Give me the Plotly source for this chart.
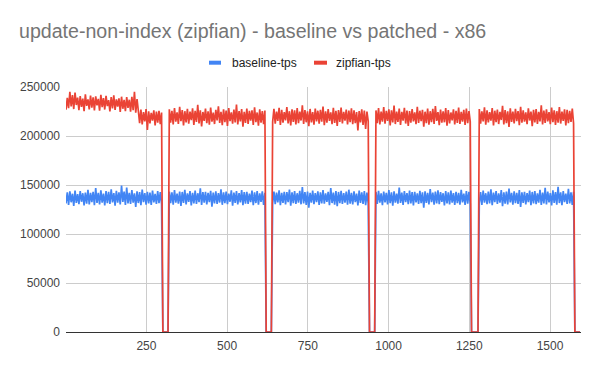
import plotly.graph_objects as go

# ---------------- data (sampled every 4 runs) ----------------
sample_start = 1
sample_step = 4

red_run1 = [226800, 238900, 228400, 245200, 230100, 241700, 227500, 244300, 231600, 239200,
            226300, 240800, 229700, 238100, 225400, 242600, 230800, 237400, 227100, 241300,
            228900, 239500, 226200, 240400, 231300, 237800, 225800, 242100, 229400, 238700,
            227000, 240900, 230500, 236600, 225100, 239800, 228200, 241500, 226700, 237300,
            229900, 238400, 224600, 240100, 227800, 236900, 225300, 239600, 228600, 237000,
            224900, 239900, 226400, 245000, 223800, 237600,
            225800, 213200, 226900, 211700, 224300, 214900, 227400, 206200, 225100, 212800,
            223700, 215600, 226200, 210900, 224800, 213700, 225600, 212100, 223900]
red_run2 = [227300, 213500, 225800, 211900, 228600, 214700, 224100, 212300, 229800, 215200,
            226400, 210800, 225300, 213900, 227700, 212600, 224900, 216100, 228200, 211400,
            225600, 214300, 231700, 212900, 226100, 209800, 224500, 215400, 227900, 213100,
            225200, 211600, 228900, 214600, 223800, 212200, 226700, 215900, 230400, 213400,
            224700, 211100, 227100, 214100, 225900, 210300, 228400, 215100, 224200, 212700,
            226900, 213800, 232100, 211800, 225400, 214800, 227500, 209600, 224600, 213300,
            228100, 212400, 225700, 215700, 226300, 211300, 229300, 214200, 224000, 210600,
            227200, 213600, 225500, 212000, 226000]
red_run3 = [214400, 227800, 212500, 225000, 215300, 228800, 211200, 226600, 213700, 224400,
            216000, 229600, 212800, 225300, 210700, 227300, 214500, 226100, 211900, 228500,
            213200, 224800, 215800, 231200, 212300, 226400, 214000, 225100, 209900, 227600,
            213900, 224300, 211500, 228000, 215000, 225800, 212600, 226800, 214700, 230000,
            211000, 225200, 213500, 227400, 215500, 224100, 212100, 228700, 213300, 225600,
            210400, 226500, 214300, 229000, 212900, 224700, 215600, 227000, 211700, 225900,
            214100, 228300, 212000, 226200, 213000, 224500, 205800, 225400, 213800, 227100,
            211400, 226000, 207200, 224900, 214900]
red_run4 = [226100, 213100, 228500, 211800, 224900, 214600, 229400, 212500, 225700, 215300,
            227200, 210900, 226300, 213900, 231000, 212200, 225000, 214400, 227900, 211300,
            224600, 215700, 228800, 212700, 226000, 210200, 225500, 213600, 227400, 214800,
            224200, 212000, 229700, 213300, 225800, 215100, 226600, 209400, 224800, 213000,
            228100, 211600, 225300, 214200, 227700, 212400, 230600, 215400, 224400, 211100,
            226900, 213700, 225100, 214000, 228400, 210500, 226500, 212900, 224000, 215900,
            227300, 211900, 225600, 213400, 229100, 212300, 224700, 214700, 226700, 211200,
            228000, 213200, 225400, 214500]
red_run5 = [227600, 212600, 225100, 214900, 229200, 211500, 226200, 213800, 224300, 215600,
            228600, 210700, 225800, 214100, 227000, 212200, 224600, 216300, 230900, 211700,
            226400, 213100, 225200, 209300, 228200, 214400, 224900, 212800, 227700, 215200,
            225500, 211000, 229800, 213500, 226100, 214600, 224100, 212100, 228300, 215800,
            225000, 210100, 226800, 213900, 227500, 212400, 224700, 214800, 231400, 211900,
            225900, 213300, 227300, 215000, 224400, 212000, 228900, 214000, 226300, 211400,
            225300, 213600, 229500, 212700, 224800, 215400, 227100, 210800, 226600, 213000,
            225700, 214300, 228100, 212900]

blue_run1 = [131200, 142600, 129800, 143500, 132400, 141100, 128700, 144200, 131700, 140800,
             130500, 143900, 132900, 141600, 129300, 142300, 131000, 145100, 130200, 141900,
             132600, 143000, 129500, 146800, 131800, 142100, 130300, 144600, 132100, 141300,
             129100, 143700, 131500, 142900, 130800, 145700, 132300, 141800, 128900, 144100,
             131900, 142500, 130100, 149400, 132700, 143300, 129700, 147500, 131300, 142000,
             130600, 144900, 132000, 141500, 127600, 143600, 131600, 142800, 129400, 145300,
             132500, 141700, 130000, 143100, 131100, 142200, 129600, 144400, 132200, 141000,
             130700, 143800, 131400, 142700, 130400]
blue_run2 = [143200, 131500, 142400, 129900, 144700, 132000, 141200, 130900, 143400, 128600,
             142900, 131700, 145000, 130300, 141400, 132800, 143900, 129200, 142100, 131200,
             144300, 130600, 141600, 132400, 146600, 129600, 142700, 131900, 143000, 130100,
             141900, 132600, 144000, 127900, 142300, 131100, 143600, 130700, 141700, 132100,
             145500, 129800, 142600, 131400, 143300, 130400, 141100, 132900, 144500, 129000,
             142200, 131800, 143700, 130200, 141800, 132300, 144800, 129500, 142800, 131000,
             143100, 130800, 141300, 132500, 144200, 129300, 142500, 131600, 143800, 130000,
             141500, 132700, 143500, 129700, 142000]
blue_run3 = [131300, 143400, 130500, 142200, 132200, 144600, 129400, 141900, 131800, 143100,
             130100, 142800, 132600, 145400, 129000, 142400, 131500, 143900, 130700, 141600,
             132000, 144100, 130300, 148000, 131100, 142700, 129800, 143300, 126900, 142000,
             131900, 144300, 130400, 141800, 132400, 143600, 129600, 142500, 131200, 144900,
             130900, 141400, 132800, 143000, 129300, 146900, 131600, 142300, 130000, 143700,
             128300, 142900, 131400, 144000, 130600, 141700, 132100, 143200, 129900, 145200,
             131000, 142100, 130200, 143500, 132500, 141200, 129100, 144400, 131700, 142600,
             130800, 143800, 129500, 142200, 131300]
blue_run4 = [142900, 130600, 144100, 131900, 141500, 129400, 143200, 132300, 142000, 130200,
             144800, 131400, 142600, 128800, 143500, 132000, 141300, 130900, 147300, 131700,
             142300, 129700, 143900, 132600, 141700, 130400, 144400, 131200, 142800, 129100,
             143100, 132200, 141400, 130700, 144000, 131500, 142500, 126800, 143600, 131800,
             141900, 130100, 145800, 132400, 142200, 129900, 143300, 131100, 144600, 130500,
             142700, 132700, 141600, 129200, 143800, 131300, 142400, 130300, 144200, 132100,
             141800, 129600, 143000, 131600, 142100, 130000, 145000, 132200, 141200, 129800,
             143700, 131000, 142900, 130800]
blue_run5 = [131500, 142800, 129700, 144300, 132100, 141600, 130400, 143400, 131200, 145600,
             129500, 142200, 132400, 143900, 130600, 141400, 131900, 144700, 128400, 142600,
             131000, 143200, 130200, 146300, 132300, 141900, 129900, 143600, 131400, 142100,
             130800, 144900, 127500, 142500, 131700, 143100, 130100, 141700, 132600, 144400,
             129300, 142900, 131100, 143800, 130500, 141500, 132000, 145100, 129600, 142300,
             131300, 147200, 130300, 143300, 132200, 141800, 129100, 144500, 131800, 142700,
             130000, 148100, 131600, 142400, 129400, 143700, 132500, 141300, 130700, 146000,
             131200, 142600, 129800, 143100]

gap1 = [0, 0, 0, 0, 0]
gap2 = [0, 0, 0, 0, 0]
gap3 = [0, 0, 0, 0, 0]
gap4 = [0, 0, 0, 0, 0, 0]
gap5 = [0, 0, 0, 0, 0]

x_tick_vals = [250, 500, 750, 1000, 1250, 1500]
y_tick_vals = [0, 50000, 100000, 150000, 200000, 250000]

series_names = ["baseline-tps", "zipfian-tps"]
series_colors = ["#4285F4", "#EA4335"]

# ---------------- build ----------------
baseline = blue_run1 + gap1 + blue_run2 + gap2 + blue_run3 + gap3 + blue_run4 + gap4 + blue_run5 + gap5
zipfian = red_run1 + gap1 + red_run2 + gap2 + red_run3 + gap3 + red_run4 + gap4 + red_run5 + gap5
xs = list(range(sample_start, sample_start + sample_step * len(zipfian), sample_step))

FONT = "Arial, 'Liberation Sans', sans-serif"

fig = go.Figure()
for name, color, ys in zip(series_names, series_colors, [baseline, zipfian]):
    fig.add_trace(go.Scatter(x=xs, y=ys, mode="lines", name=name,
                             line=dict(color=color, width=1.7), showlegend=False))

OFF = 8  # page body margin
W, H = 600 - OFF, 371 - OFF
# plot box in page pixels: left 66, right 581, top 87, bottom 332
L, T = 66 - OFF, 87 - OFF
R, B = W - (581 - OFF), H - (332 - OFF)
pw, ph = W - L - R, H - T - B


def px_x(p):
    return (p - OFF - L) / pw


def px_y(p):
    return (H - B - (p - OFF)) / ph


shapes = []
annotations = []
legend_items = [(209, 221, 230), (314, 327, 334)]
for (sx0, sx1, tx), name, color in zip(legend_items, series_names, series_colors):
    shapes.append(dict(type="rect", xref="paper", yref="paper",
                       x0=px_x(sx0), x1=px_x(sx1), y0=px_y(64.7), y1=px_y(60.7),
                       fillcolor=color, line=dict(width=0)))
    annotations.append(dict(xref="paper", yref="paper", x=px_x(tx), y=px_y(62.7),
                            xanchor="left", yanchor="middle", showarrow=False,
                            text=name, font=dict(family=FONT, size=12, color="#222222")))

fig.update_layout(
    width=W, height=H,
    margin=dict(l=L, r=R, t=T, b=B, autoexpand=False),
    paper_bgcolor="white", plot_bgcolor="white",
    title=dict(text="update-non-index (zipfian) - baseline vs patched - x86",
               x=(19 - OFF) / W, xanchor="left", xref="container",
               y=1 - (31.5 - OFF) / H, yanchor="middle", yref="container",
               font=dict(family=FONT, size=19.6, color="#757575")),
    showlegend=False,
    shapes=shapes,
    annotations=annotations,
    font=dict(family=FONT, size=12, color="#444444"),
    xaxis=dict(range=[1, 1596], tickvals=x_tick_vals, showgrid=True, gridcolor="#cccccc",
               gridwidth=1, zeroline=False, showline=True, linecolor="#333333", linewidth=1,
               ticks="", ticklabelstandoff=3,
               tickfont=dict(family=FONT, size=12, color="#444444")),
    yaxis=dict(range=[0, 250000], tickvals=y_tick_vals, tickformat="d", showgrid=True,
               gridcolor="#cccccc", gridwidth=1, zeroline=False, showline=False,
               ticks="", ticklabelstandoff=5,
               tickfont=dict(family=FONT, size=12, color="#444444")),
)

fig.write_html("out.html")
